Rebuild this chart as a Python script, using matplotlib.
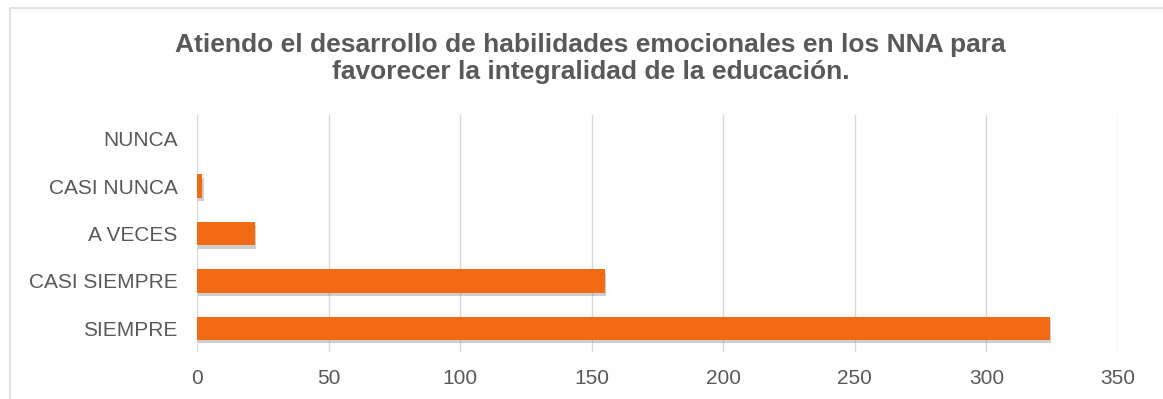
import matplotlib
matplotlib.use("Agg")
import matplotlib.pyplot as plt
import matplotlib.patheffects as pe
from matplotlib.patches import Rectangle

# data
categories = ["SIEMPRE", "CASI SIEMPRE", "A VECES", "CASI NUNCA", "NUNCA"]
counts = [324, 155, 22, 2, 0]
xticks = [0, 50, 100, 150, 200, 250, 300, 350]
title = ("Atiendo el desarrollo de habilidades emocionales en los NNA para\n"
         "favorecer la integralidad de la educación.")

ORANGE = "#F26A12"
TEXT = "#595959"
GRID = "#D9D9D9"

plt.rcParams["font.family"] = ["Liberation Sans", "DejaVu Sans"]

fig = plt.figure(figsize=(11.63, 3.99), dpi=100)
fig.patch.set_facecolor("white")
# light frame of the chart area
fig.patches.append(Rectangle((10 / 1163, -0.05), 1.2, 1 - 8 / 399 + 0.05,
                             transform=fig.transFigure, facecolor="#FEFEFE",
                             edgecolor="#DDDDDD", lw=1.2, zorder=-10))

ax = fig.add_axes([197 / 1163, 1 - 352 / 399, (1118 - 197) / 1163, (352 - 115) / 399])
ax.set_facecolor("none")
ax.set_zorder(1)

ypos = list(range(len(categories)))
bars = ax.barh(ypos, counts, height=0.49, color=ORANGE, zorder=3)
for b in bars:
    b.set_path_effects([pe.SimplePatchShadow(offset=(1, -2.5), shadow_rgbFace="#777777", alpha=0.35),
                        pe.Normal()])

ax.set_xlim(0, 350)
ax.set_ylim(-0.5, len(categories) - 0.5)
ax.set_xticks(xticks)
ax.set_yticks(ypos)
ax.set_yticklabels(categories)
ax.tick_params(axis="both", length=0, colors=TEXT, labelsize=15)
ax.tick_params(axis="x", pad=12)
ax.tick_params(axis="y", pad=14)
ax.grid(axis="x", color=GRID, lw=1, zorder=0)
for s in ax.spines.values():
    s.set_visible(False)

fig.text(0.508, 1 - 58.5 / 399, title, ha="center", va="center", fontsize=19,
         fontweight="bold", color=TEXT, linespacing=1.13)

fig.savefig("out.png", dpi=100)
